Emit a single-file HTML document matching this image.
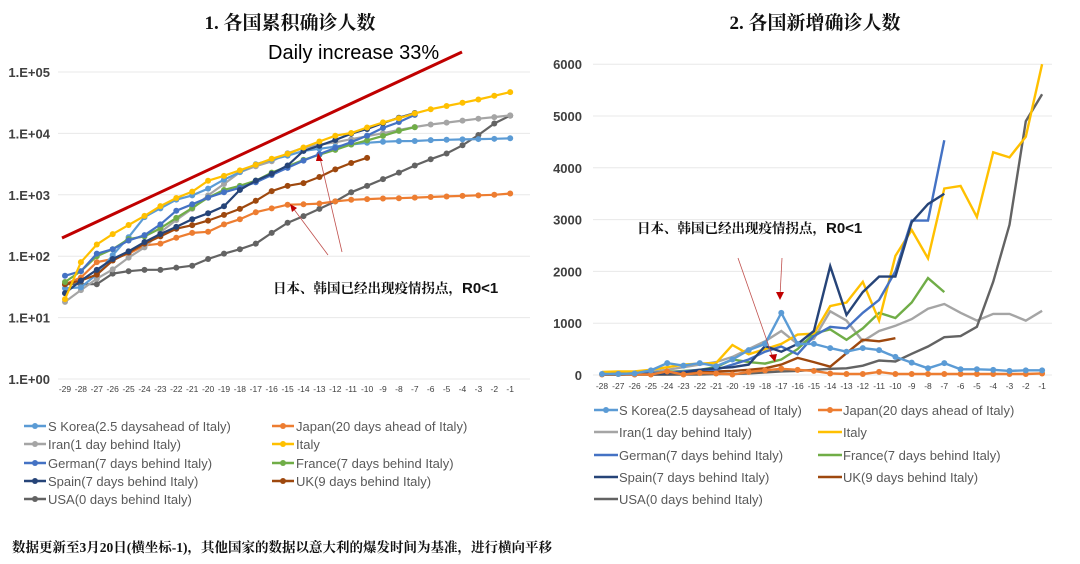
<!DOCTYPE html>
<html><head><meta charset="utf-8"><style>
body{margin:0;background:#fff;width:1080px;height:564px;overflow:hidden;font-family:"Liberation Sans","Noto Sans CJK SC",sans-serif}
svg{position:absolute;left:0;top:0}
</style></head><body>
<svg id="s" width="1080" height="564" xmlns="http://www.w3.org/2000/svg" font-family="Liberation Sans, Noto Sans CJK SC, sans-serif">
<text x="290" y="29" font-size="19" text-anchor="middle" fill="#111" font-family="Liberation Serif, Noto Serif CJK SC, serif" font-weight="bold">1.  各国累积确诊人数</text>
<text x="815" y="29" font-size="19" text-anchor="middle" fill="#111" font-family="Liberation Serif, Noto Serif CJK SC, serif" font-weight="bold">2.  各国新增确诊人数</text>
<text x="268" y="59" font-size="20" fill="#000">Daily increase 33%</text>
<g id="L"></g><g id="R"></g>
<line x1="62" y1="238" x2="462" y2="52" stroke="#C00000" stroke-width="3"/>
<text x="273" y="293" font-size="13.5" font-weight="bold" fill="#111" font-family="Noto Serif CJK SC, serif">日本、韩国已经出现疫情拐点，<tspan font-family="Liberation Sans, sans-serif" font-size="15">R0&lt;1</tspan></text>
<text x="637" y="233" font-size="13.5" font-weight="bold" fill="#111" font-family="Noto Serif CJK SC, serif">日本、韩国已经出现疫情拐点，<tspan font-family="Liberation Sans, sans-serif" font-size="15">R0&lt;1</tspan></text>
<g stroke="#C0504D" stroke-width="0.8" fill="none">
<line x1="328" y1="255" x2="293" y2="208"/><line x1="342" y1="252" x2="320" y2="158"/>
<line x1="738" y1="258" x2="773" y2="358"/><line x1="782" y1="258" x2="780" y2="296"/>
</g>
<g fill="#C00000"><polygon points="290,204 297,208 292,212"/><polygon points="318,153 323,161 316,161"/><polygon points="775,362 769,355 777,354"/><polygon points="780,300 776,292 784,292"/></g>
<text x="12" y="552" font-size="13.5" fill="#111" font-family="Liberation Serif, Noto Serif CJK SC, serif" font-weight="bold">数据更新至3月20日(横坐标-1)，其他国家的数据以意大利的爆发时间为基准，进行横向平移</text>
<g id="LG" font-size="13" fill="#595959"></g>
</svg>
<script>
var ns="http://www.w3.org/2000/svg";
function el(p,t,a,txt){var e=document.createElementNS(ns,t);for(var k in a)e.setAttribute(k,a[k]);if(txt!=null)e.textContent=txt;p.appendChild(e);return e;}
var L=document.getElementById('L'),R=document.getElementById('R'),LG=document.getElementById('LG');
var labs=["1.E+05","1.E+04","1.E+03","1.E+02","1.E+01","1.E+00"];
for(var i=0;i<6;i++){var y=72+i*61.4;el(L,'line',{x1:58,x2:530,y1:y,y2:y,stroke:'#e8e8e8','stroke-width':1});el(L,'text',{x:50,y:y+5,'font-size':13,'font-weight':'bold','text-anchor':'end',fill:'#404040'},labs[i]);}
function lx(d){return 65+(d+29)*15.9;}function ly(v){return 379-Math.log10(v)*61.4;}
for(var d=-29;d<=-1;d++)el(L,'text',{x:lx(d),y:392,'font-size':8.5,'text-anchor':'middle',fill:'#404040'},String(d));
var C={kor:'#5B9BD5',jap:'#ED7D31',iran:'#A5A5A5',ita:'#FFC000',ger:'#4472C4',fra:'#70AD47',spa:'#264478',uk:'#9E480E',usa:'#636363'};
var LD={
usa:[35,35,35,52,57,60,60,65,70,90,110,130,160,240,350,450,590,780,1100,1400,1800,2300,3000,3800,4700,6400,9400,14500,19500],
jap:[35,45,80,90,110,150,160,200,240,250,330,400,520,600,690,700,720,780,830,850,870,880,900,920,940,960,980,1000,1050],
iran:[18,28,43,61,95,139,245,388,593,978,1501,2336,2922,3513,4747,5823,6566,7161,8042,9000,10075,11364,12729,13938,14991,16169,17361,18407,19644],
kor:[30,31,51,104,204,433,602,833,977,1261,1766,2337,3150,3736,4335,5186,5621,6088,6593,7041,7313,7478,7513,7755,7869,7979,8086,8162,8320],
uk:[35,40,50,85,115,160,210,280,320,380,470,590,800,1150,1400,1550,1950,2600,3300,4000],
fra:[38,57,100,130,190,210,285,420,610,900,1200,1400,1700,2300,2900,3700,4500,5400,6600,7700,9100,11000,12600],
ger:[48,57,110,130,180,220,330,550,700,900,1100,1300,1600,2100,2750,3600,4600,5800,7200,9200,12300,15300,20000],
spa:[25,40,60,90,120,170,230,300,400,500,650,1200,1700,2200,3000,5200,6300,7800,9900,11800,14700,18000,21500],
ita:[20,80,155,229,322,453,655,888,1128,1694,2036,2502,3089,3858,4636,5883,7375,9172,10149,12462,15113,17660,21157,24747,27980,31506,35713,41035,47021]};
['usa','jap','iran','kor','uk','fra','ger','spa','ita'].forEach(function(k){var a=LD[k],p=[];a.forEach(function(v,i){p.push(lx(-29+i).toFixed(1)+','+ly(v).toFixed(1));});
el(L,'polyline',{points:p.join(' '),fill:'none',stroke:C[k],'stroke-width':2.2});
a.forEach(function(v,i){el(L,'circle',{cx:lx(-29+i),cy:ly(v),r:3,fill:C[k]});});});
for(var i=0;i<=6;i++){var y=375-i*51.8;el(R,'line',{x1:593,x2:1052,y1:y,y2:y,stroke:'#e8e8e8','stroke-width':1});el(R,'text',{x:582,y:y+5,'font-size':13,'font-weight':'bold','text-anchor':'end',fill:'#404040'},String(i*1000));}
function rx(d){return 602+(d+28)*16.3;}function ry(v){return 375-v*0.0518;}
for(var d=-28;d<=-1;d++)el(R,'text',{x:rx(d),y:389,'font-size':8.5,'text-anchor':'middle',fill:'#404040'},String(d));
var RD={
iran:[20,20,40,60,100,150,200,250,350,500,650,850,600,700,1230,1050,650,850,950,1080,1280,1370,1200,1050,1180,1180,1050,1240],
usa:[5,5,5,5,5,10,10,20,20,30,50,70,80,100,120,130,180,280,260,410,550,730,750,930,1800,2900,4900,5420],
uk:[10,10,20,30,40,50,60,70,80,100,130,200,330,250,160,420,680,650,710],
fra:[20,20,30,40,60,80,100,150,300,250,220,300,500,800,880,680,900,1200,1100,1400,1870,1600],
ita:[60,70,70,100,150,200,220,230,580,400,500,600,780,800,1330,1400,1800,1050,2300,2800,2250,3600,3650,3050,4300,4200,4600,6000],
ger:[10,20,30,40,50,70,100,100,200,300,450,550,400,750,930,900,1200,1450,2000,2980,2980,4530],
spa:[10,20,20,20,30,50,100,130,150,200,560,450,600,850,2100,1160,1600,1900,1900,2950,3300,3500],
jap:[10,20,10,10,70,10,40,30,10,60,90,120,100,80,30,20,20,60,20,20,20,20,20,20,20,20,20,30],
kor:[20,20,30,90,230,180,230,170,300,480,600,1200,600,600,520,450,520,480,350,240,130,230,110,110,100,80,90,90]};
['iran','usa','uk','fra','ita','ger','spa','jap','kor'].forEach(function(k){var a=RD[k],p=[];a.forEach(function(v,i){p.push(rx(-28+i).toFixed(1)+','+ry(v).toFixed(1));});
el(R,'polyline',{points:p.join(' '),fill:'none',stroke:C[k],'stroke-width':2.4});
if(k=='jap'||k=='kor')a.forEach(function(v,i){el(R,'circle',{cx:rx(-28+i),cy:ry(v),r:3,fill:C[k]});});});
var names=[['kor','S Korea(2.5 daysahead of Italy)'],['jap','Japan(20 days ahead of Italy)'],['iran','Iran(1 day behind Italy)'],['ita','Italy'],['ger','German(7 days behind Italy)'],['fra','France(7 days behind Italy)'],['spa','Spain(7 days behind Italy)'],['uk','UK(9 days behind Italy)'],['usa','USA(0 days behind Italy)']];
var lrows=[426,444,463,481,499],rrows=[410,432,455,477,499];
names.forEach(function(n,i){var r=Math.floor(i/2),c=i%2;
var x=c?272:24,y=lrows[r];el(LG,'line',{x1:x,x2:x+22,y1:y,y2:y,stroke:C[n[0]],'stroke-width':2.5});el(LG,'circle',{cx:x+11,cy:y,r:3,fill:C[n[0]]});el(LG,'text',{x:x+24,y:y+5},n[1]);
var X=c?818:594,Y=rrows[r];el(LG,'line',{x1:X,x2:X+24,y1:Y,y2:Y,stroke:C[n[0]],'stroke-width':2.5});if(n[0]=='kor'||n[0]=='jap')el(LG,'circle',{cx:X+12,cy:Y,r:3,fill:C[n[0]]});el(LG,'text',{x:X+25,y:Y+5},n[1]);});
</script>
</body></html>
